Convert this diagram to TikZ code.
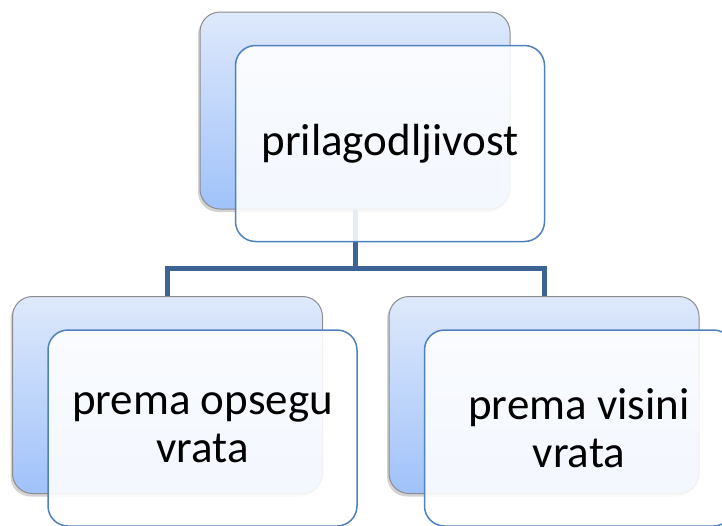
\documentclass[tikz,border=0pt]{standalone}
\usepackage{fontspec}
\setmainfont{Carlito}
\usetikzlibrary{shadows}
\definecolor{linkblue}{RGB}{62,100,150}
\definecolor{edgeblue}{RGB}{79,129,189}
\definecolor{shadetop}{RGB}{222,233,251}
\definecolor{shadebot}{RGB}{160,194,250}
\begin{document}
\begin{tikzpicture}[x=1pt,y=-1pt,
	back/.style={rectangle,rounded corners=20pt,draw=gray!90,line width=1pt,
		top color=shadetop,bottom color=shadebot,
		minimum width=310pt,minimum height=197pt,
		drop shadow={shadow xshift=-2pt,shadow yshift=-3pt,opacity=.35}},
	front/.style={rectangle,rounded corners=20pt,draw=edgeblue,line width=1.5pt,
		fill=white,fill opacity=.88,text opacity=1,
		minimum width=309pt,minimum height=196pt,align=center,
		font=\fontsize{45}{48}\selectfont},
	link/.style={draw=linkblue,line width=5pt}]
\clip (0,0) rectangle (722,525);
\coordinate (fork) at (355,268);
\node[back] (backtop) at (355,110.5) {};
\node[back] (backleft) at (167.5,395) {};
\node[back] (backright) at (544,395) {};
\draw[link] (backtop.south) -- (fork);
\draw[link] (backleft.north) |- (fork) -| (backright.north);
\node[front] (top) at ([shift={(35,33)}]backtop.center) {prilagodljivost};
\node[front] (left) at ([shift={(35,33)}]backleft.center) {prema opsegu\\vrata};
\node[front] (right) at ([shift={(35,33)}]backright.center) {prema visini\\vrata};
\end{tikzpicture}
\end{document}
